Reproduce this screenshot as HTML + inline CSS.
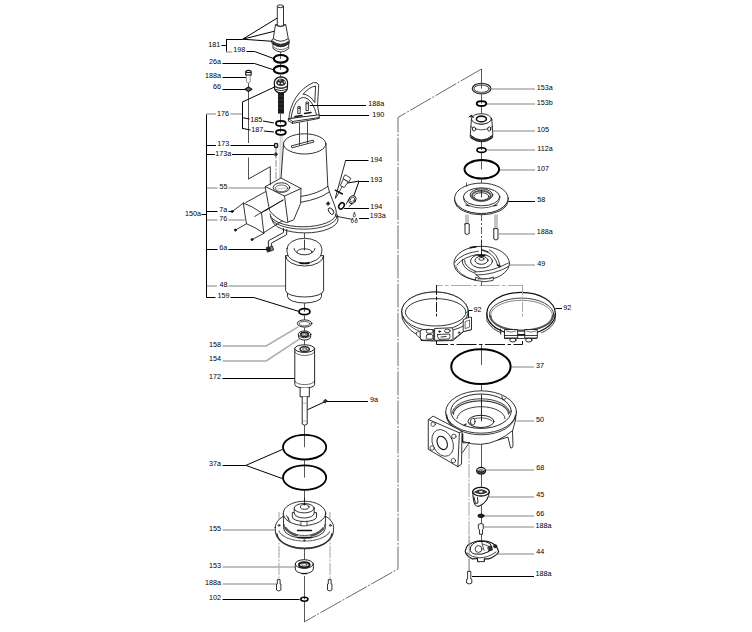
<!DOCTYPE html>
<html><head><meta charset="utf-8"><style>
html,body{margin:0;padding:0;background:#fff;}
svg{display:block;}
text{font-family:"Liberation Sans",sans-serif;font-size:7.2px;fill:#000;text-anchor:end;}
</style></head><body>
<svg width="752" height="632" viewBox="0 0 752 632">
<rect width="752" height="632" fill="#fff"/>
<g fill="none" stroke-width="1">
<polyline points="481.5,69 398,117.4 398,569 304,622" stroke="#6a6a6a" stroke-width="1" stroke-dasharray="24 1.6 2 1.6"/>
<path d="M436.5,316 L436.5,285.5 L522.5,285.5 L522.5,316" stroke="#aaa" stroke-width="1.1" stroke-dasharray="20 2.5 3.5 2.5" stroke-dashoffset="12"/>
<path d="M436.5,339 L436.5,344.5 L522.5,344.5 L522.5,339" stroke="#111" stroke-dasharray="20 2.5 3.5 2.5" stroke-dashoffset="3"/>
<path d="M436.5,285.5 L436.5,316" stroke="#111" stroke-dasharray="9 2.5 3 2.5"/>
<path d="M522.5,285.5 L522.5,316" stroke="#aaa" stroke-dasharray="9 2.5 3 2.5"/>
<!-- axes left column -->
<path d="M280.5,52 L280.5,59 M280.5,63.8 L280.5,69.8 M280.5,74.7 L280.5,77 M280.5,113.6 L280.5,123.4 M280.5,126.8 L280.5,132.3" stroke="#555" stroke-width="0.9"/>
<path d="M248.5,83 L248.5,143 M248.5,157.5 L248.5,179" stroke="#555" stroke-width="1"/>
<path d="M276,148 L276,179" stroke="#aaa" stroke-width="1.3" stroke-dasharray="7 1.5 2 1.5"/>
<path d="M304.5,228 L304.5,252 M304.5,302 L304.5,311.7 M304.5,315.6 L304.5,323.5 M304.5,327.6 L304.5,331 M304.5,340 L304.5,348 M304.5,425 L304.5,447.2 M304.5,460.4 L304.5,477.6 M304.5,490.8 L304.5,505" stroke="#444" stroke-width="0.9"/>
<path d="M279,512 L279,580 M330,512 L330,580" stroke="#999" stroke-width="0.9" stroke-dasharray="12 1.5 2 1.5"/>
<path d="M304.5,548 L304.5,564 M304.5,576 L304.5,599.3 M304.5,601.9 L304.5,622" stroke="#444" stroke-width="0.9"/>
<!-- axes right column -->
<path d="M481.5,69 L481.5,88.6 M481.5,94.5 L481.5,103.6 M481.5,107 L481.5,119 M481.5,139 L481.5,150.05 M481.5,153.2 L481.5,169.4 M481.5,179.6 L481.5,197 M481.5,278 L481.5,285.5 M481.5,344.5 L481.5,365 M481.5,385 L481.5,424 M481.5,443 L481.5,540" stroke="#444" stroke-width="0.9"/>
<path d="M481.5,214 L481.5,240" stroke="#333" stroke-width="0.8" stroke-dasharray="7 2 2 2"/>

<path d="M469,445 L469,572" stroke="#999" stroke-width="0.9" stroke-dasharray="14 1.5 2 1.5"/>

<polyline points="221.5,45.5 226,45.5" stroke="#000"/>
<polyline points="226.5,39.2 226.5,52.2" stroke="#000"/>
<polyline points="226,39.5 242.7,39.5" stroke="#000"/>
<polyline points="242.7,39.2 277.3,18" stroke="#000"/>
<polyline points="242.7,39.2 274,31.3" stroke="#000"/>
<polyline points="242.7,39.2 272.1,41.3" stroke="#000"/>
<polyline points="226,52 232,52" stroke="#acacac" stroke-width="1.5"/>
<polyline points="246.5,51.5 254.6,51.5 273.6,58.5" stroke="#000"/>
<polyline points="222.5,63.5 254.5,63.5 273,69.6" stroke="#000"/>
<polyline points="222.5,77.5 246,77.5" stroke="#000"/>
<polyline points="222.5,89.5 246,89.5" stroke="#000"/>
<polyline points="206.3,114 216,114" stroke="#acacac" stroke-width="1.5"/>
<polyline points="230.5,114 242,114" stroke="#acacac" stroke-width="1.5"/>
<polyline points="242.5,102.2 242.5,128.3" stroke="#000"/>
<polyline points="242,102.2 274.4,87.1" stroke="#000"/>
<polyline points="242,117.6 249.5,119" stroke="#000"/>
<polyline points="263,121 274,123" stroke="#000"/>
<polyline points="242,128.3 250.5,130" stroke="#000"/>
<polyline points="264,131 274,132" stroke="#000"/>
<polyline points="206.3,145.5 216,145.5" stroke="#000"/>
<polyline points="230.5,145.5 274,145.5" stroke="#000"/>
<polyline points="206.3,154.5 215,154.5" stroke="#000"/>
<polyline points="232,154.5 274,154.5" stroke="#000"/>
<polyline points="206,188 217.5,188" stroke="#acacac" stroke-width="1.5"/>
<polyline points="228.5,188 265.5,188" stroke="#acacac" stroke-width="1.5"/>
<polyline points="201.5,214.5 206.1,214.5" stroke="#000"/>
<polyline points="206,211.5 217.5,211.5" stroke="#000"/>
<polyline points="228.5,211.5 232,211.5" stroke="#000"/>
<polyline points="206,220 217.5,220" stroke="#acacac" stroke-width="1.5"/>
<polyline points="228.5,220 244.9,220" stroke="#acacac" stroke-width="1.5"/>
<polyline points="206,249.5 217.5,249.5" stroke="#000"/>
<polyline points="228.5,249.5 268.6,249.5" stroke="#000"/>
<polyline points="206.4,286 216.8,286" stroke="#acacac" stroke-width="1.5"/>
<polyline points="228.5,286 285.6,286" stroke="#acacac" stroke-width="1.5"/>
<polyline points="206.4,297.5 215.5,297.5" stroke="#000"/>
<polyline points="230.5,297.5 253.9,297.5 298.2,311.2" stroke="#000"/>
<polyline points="206.5,114.5 206.5,297.5" stroke="#000"/>
<polyline points="222.5,346 266.2,346 298.2,326.8" stroke="#acacac" stroke-width="1.5"/>
<polyline points="222.5,361 266.2,361 299.3,339.2" stroke="#acacac" stroke-width="1.5"/>
<polyline points="222.5,378.5 294.6,378.5" stroke="#000"/>
<polyline points="368,401.5 325.4,401.5 307.6,409.7" stroke="#000"/>
<polyline points="222.6,465.5 245.9,465.5" stroke="#000"/>
<polyline points="245.9,465.4 282.7,449.3" stroke="#000"/>
<polyline points="245.9,465.4 282.7,478.7" stroke="#000"/>
<polyline points="222.6,530 275.1,530" stroke="#acacac" stroke-width="1.5"/>
<polyline points="222.6,567 295,567" stroke="#acacac" stroke-width="1.5"/>
<polyline points="222.6,584 276,584" stroke="#acacac" stroke-width="1.5"/>
<polyline points="222.6,599.5 299.5,599.5" stroke="#000"/>
<polyline points="366,105.5 309.8,105.5" stroke="#000"/>
<polyline points="369,115.5 316,115.5" stroke="#000"/>
<polyline points="368.5,160.5 345.6,160.5" stroke="#000"/>
<polyline points="369,181.5 359.1,181.5" stroke="#000"/>
<polyline points="359.1,181 347.2,183.1" stroke="#000"/>
<polyline points="359.1,181 353.8,195.9" stroke="#000"/>
<polyline points="369,208.5 344.2,208.5" stroke="#000"/>
<polyline points="369,218.5 359.1,218.5" stroke="#000"/>
<polyline points="535,89 491.3,89" stroke="#acacac" stroke-width="1.5"/>
<polyline points="535,104 487,104" stroke="#acacac" stroke-width="1.5"/>
<polyline points="535,131 493.2,131" stroke="#acacac" stroke-width="1.5"/>
<polyline points="535,150 486.5,150" stroke="#acacac" stroke-width="1.5"/>
<polyline points="535,170 499.8,170" stroke="#acacac" stroke-width="1.5"/>
<polyline points="535,201.5 508.3,201.5" stroke="#000"/>
<polyline points="535,234 498.7,234" stroke="#acacac" stroke-width="1.5"/>
<polyline points="535,265 509.2,265" stroke="#acacac" stroke-width="1.5"/>
<polyline points="472.5,310.5 468.5,310.5 468.5,317.3" stroke="#000"/>
<polyline points="562,308.5 555.5,308.5" stroke="#000"/>
<polyline points="534,367 511.5,367" stroke="#acacac" stroke-width="1.5"/>
<polyline points="534,421 516.4,421" stroke="#acacac" stroke-width="1.5"/>
<polyline points="534,470 486,470" stroke="#acacac" stroke-width="1.5"/>
<polyline points="534,497 489,497" stroke="#acacac" stroke-width="1.5"/>
<polyline points="534,516 484,516" stroke="#acacac" stroke-width="1.5"/>
<polyline points="534,527 484,527" stroke="#acacac" stroke-width="1.5"/>
<polyline points="534,554 497,554" stroke="#acacac" stroke-width="1.5"/>
<polyline points="534,576.5 472,576.5" stroke="#000"/>
</g>
<g fill="#fff" stroke="#111" stroke-width="0.85" stroke-linejoin="round" stroke-linecap="round">
<!-- 181 cable entry -->
<path d="M273,44.5 L273,48.5 Q280.8,55.5 288.7,48.5 L288.7,44.5 Z"/>
<path d="M274,47.5 Q280.8,52 287.7,47.5" fill="none" stroke-width="0.6"/>
<path d="M272.2,39.5 Q280.7,33 289.2,39.5 L289.2,43.5 Q280.7,50 272.2,43.5 Z" fill="#fff"/>
<path d="M272.6,41 Q280.7,47.5 288.8,41 L288.8,43.5 Q280.7,50 272.6,43.5 Z" fill="#333" stroke-width="0.5"/>
<path d="M275.4,25 L273.3,38.5 Q280.7,44 288.3,38.5 L285.8,25 Z"/>
<path d="M277.3,6.5 L277.3,25.5 Q280.4,27 283.5,25.5 L283.5,6.5 Z"/>
<ellipse cx="280.4" cy="6.3" rx="3.1" ry="1.4"/>
<path d="M275.4,25 Q280.6,28.5 285.8,25" fill="none" stroke-width="0.6"/>
<!-- bolt 188a + washer 66 -->
<path d="M246.4,75 L246.4,82 L248.45,83 L250.2,82 L250.2,75" stroke="#888" stroke-width="0.9"/>
<path d="M245.7,71.5 Q248.45,69.2 251.2,71.5 L251.2,75 L245.7,75 Z" fill="#fff" stroke="#111" stroke-width="1.1"/>
<path d="M246.5,72.5 L250.4,72.5" stroke="#111" stroke-width="1.2"/>
<path d="M245,89.3 L248.45,86.9 L251.9,89.3 L248.45,91.6 Z" fill="#666" stroke="#111" stroke-width="1.1"/>
<!-- terminal block 176 -->
<path d="M274.6,89 L274.3,82.5 Q275,77 281,76.8 Q287,77 287.6,82.5 L287.3,89 Q286,92.8 281,92.8 Q276,92.8 274.6,89 Z" stroke-width="1.2"/>
<path d="M276,83 Q276.5,79 281,78.5 Q285.5,79 286,83 Q285,86 281,86 Q277,86 276,83 Z" fill="#333" stroke="none"/>
<circle cx="278.8" cy="83.2" r="0.9" fill="#fff" stroke="none"/><circle cx="282" cy="83.4" r="0.9" fill="#fff" stroke="none"/><circle cx="284.5" cy="82" r="0.8" fill="#fff" stroke="none"/><circle cx="280" cy="80" r="0.7" fill="#fff" stroke="none"/>
<path d="M275.2,86.5 Q281,90 286.8,86.5" fill="none" stroke="#222" stroke-width="1.3"/>
<path d="M275.5,89.5 Q281,92 286.5,89.5" fill="none" stroke="#333" stroke-width="1"/>
<rect x="278" y="93" width="6" height="20.6" fill="#1a1a1a" stroke="none"/>
<path d="M278.3,96 L283.7,96 M278.3,100 L283.7,100 M278.3,104 L283.7,104 M278.3,108 L283.7,108" stroke="#555" stroke-width="0.5"/>
<path d="M280.3,135.5 L279.8,178 M282.1,135.5 L281.6,178" stroke="#999" stroke-width="0.6" fill="none"/>
<!-- handle 190 -->
<path d="M288.7,120.8 C289.5,103 299,89 313.3,82.6 Q318,81.8 318.7,85 C318.4,94 317.6,100 317.6,106 L319.2,115.2 L291,118.4 C293,104 298.5,97.5 303.5,97.5 C310,98 314.5,106 316.4,114.4" fill="none"/>
<path d="M288.7,118.7 L319.2,114.8 L319.2,118.4 L292.5,123.4 L288.7,121 Z"/>
<path d="M288.7,118.7 L292.5,121.5 L319.2,117.5 M292.5,121.5 L292.5,123.4" fill="none"/>
<path d="M303.4,94 Q309,87 315.6,86 L314.8,102.5 Q310,95 303.4,94 Z" fill="none"/>
<path d="M297.8,113.2 L297.8,108 L300.2,108 L300.2,113.2 Z"/><ellipse cx="299" cy="107.3" rx="1.4" ry="1"/>
<path d="M306,110.2 L306,103.5 L308.4,103.5 L308.4,110.2 Z"/><ellipse cx="307.2" cy="102.8" rx="1.4" ry="1"/>
<path d="M295,116.5 L302,115.5 M304.5,113.5 L311,112.5" fill="none" stroke-width="1.4"/>
<!-- motor flange and bell (behind box) -->
<path d="M272,219.5 A32.5,13.2 0 0 0 338,219.5 L337.5,215 A33,12.8 0 0 1 270,214 Z" stroke="none"/>
<path d="M272,219.5 A32.5,13.2 0 0 0 338,219.5 L337.5,215" fill="none"/>
<path d="M270.5,216.5 A33,12.6 0 0 0 337,216.5" fill="none" stroke-width="0.8"/>
<path d="M283.5,145 L281,178 L301,188.5 L300.6,202 Q320,198 329.7,190 C332,198 336,206 336.5,216 A33,12.8 0 0 1 304,226.8 L290,222 L285,196 Z" stroke="none"/>
<path d="M283.5,145 L281,178" fill="none"/>
<path d="M325.9,145 L327.8,186 C330,196 335.5,205 336.3,212 L336,216" fill="none"/>
<path d="M300.6,196.5 Q318,194 327.8,186.4 M300.6,202.3 Q320,199 328.8,192.2" fill="none"/>
<path d="M270,214 A33,12.8 0 0 0 336,214" fill="none"/>
<path d="M283.5,145 A21.2,10.1 0 0 1 325.9,145" fill="none"/>
<ellipse cx="304.7" cy="143.9" rx="21.2" ry="10.1"/>
<path d="M291.7,145.8 L313.2,140.1 L313.9,142 L292.3,147.7 Z"/>
<path d="M299.5,123 L299.5,145 M307.5,122 L307.5,143" fill="none" stroke="#333" stroke-width="0.9"/>
<!-- terminal box 55 -->
<path d="M265.5,186.6 L281,178 L301,188.5 L300.6,203.4 L293.7,219.9 L286.3,222.6 Q276,219 269.8,210.9 Z"/>
<path d="M265.5,186.6 L284.5,196.1 L301,188.5 M284.5,196.1 L287.9,222" fill="none"/>
<ellipse cx="281.5" cy="187.6" rx="8.3" ry="4.8"/>
<ellipse cx="281.5" cy="188.3" rx="6.3" ry="3.3" stroke-width="0.6"/>
<path d="M276,189 L287,188" stroke="#888" stroke-width="0.5" fill="none"/>
<path d="M248.5,179 L270.3,166.7 L270.3,184.7" fill="none"/>
<!-- cover 76 and screws -->
<path d="M245.9,202.5 L265.5,191.7 M254.7,216.4 L283.2,200 M263.6,232.8 L282,221 M265,210.9 L282.6,200.2" fill="none"/>
<path d="M243.4,203.1 Q252,206 261.5,212.7 Q262.5,223 263.9,233.3 Q255,227 246.5,223.8 Q244.5,213 243.4,203.1 Z"/>
<path d="M246.5,223.8 L235.4,230.1 M264,233.3 L252,239.6 M232.2,211.5 L243.4,203.1" fill="none"/>
<path d="M254.7,216.4 L268,208.7" fill="none" stroke-width="0.8"/>
<circle cx="232.2" cy="211.5" r="1" fill="#222"/><circle cx="235.4" cy="230.1" r="1" fill="#222"/><circle cx="252" cy="239.6" r="1" fill="#222"/>
<!-- screws 173 / 173a -->
<path d="M274.5,144 Q276.1,142.6 277.7,144 L277.7,147 Q276.1,148.2 274.5,147 Z" fill="#bbb" stroke="#111" stroke-width="1.1"/>
<path d="M274.2,154.3 L275.9,152.6 L277.6,154.3 L275.9,156 Z" fill="#333" stroke="#111"/>
<!-- conduit 6a -->
<path d="M268.4,247.8 L268.4,240.8 L283.5,232.5 L283.5,228.5 M271.4,246.2 L271.4,243.2 L286.7,234.6 L286.7,229.5" fill="none" stroke-width="0.9"/>
<path d="M266.6,247.6 L269.2,246.8 L270.4,251.2 L267.6,252 Z" fill="#222" stroke-width="0.8"/>
<path d="M270.4,246.8 L272.4,246 L273.6,250 L271.4,250.8 Z" fill="#888" stroke-width="0.8"/>
<!-- 193/194 fittings -->
<path d="M343.3,179.4 L340.2,185.6 L344.2,187.5 L348,182.2 Z" stroke-width="0.8"/>
<path d="M345.4,174.9 L350.9,178.2 L348.7,182 L343.3,178.7 Z" stroke-width="0.8"/>
<path d="M342.2,186.6 L336.2,197.4" fill="none" stroke-width="0.8" stroke-dasharray="1.5 0.8"/>
<path d="M335.3,190.2 L342.4,194" fill="none" stroke-width="1.5"/>
<path d="M345.6,160.5 L335.3,198.3" fill="none" stroke-width="0.9"/>
<path d="M346.2,204 L350,197 M349,206.5 L355,201.5" fill="none" stroke-width="0.8"/>
<ellipse cx="352.4" cy="199.7" rx="3.3" ry="4.3" transform="rotate(35 352.4 199.7)" stroke-width="0.9"/>
<ellipse cx="352.4" cy="199.7" rx="1.9" ry="2.7" transform="rotate(35 352.4 199.7)" stroke-width="0.7"/>
<ellipse cx="341.5" cy="205.9" rx="2.4" ry="3.4" transform="rotate(35 341.5 205.9)" stroke-width="1.5" stroke="#111"/>
<ellipse cx="331" cy="211.1" rx="2.1" ry="3.7" transform="rotate(-35 331 211.1)" stroke-width="0.9"/>
<path d="M326.6,203.5 L328.2,201.7 L329.8,203.5 L328.2,205.3 Z" fill="#222" stroke-width="0.8"/>
<path d="M336.3,216.3 L351.5,219.2" fill="none" stroke-width="0.9"/>
<path d="M354.3,212.5 L353.2,215.8 A1.1,1.1 0 1 0 355.4,215.8 Z M352.4,218.3 L351.3,221.6 A1.1,1.1 0 1 0 353.5,221.6 Z M356.2,218.3 L355.1,221.6 A1.1,1.1 0 1 0 357.3,221.6 Z" stroke-width="0.7"/>
<!-- stator 48 -->
<path d="M287.5,293.5 L287.5,296.5 A17,6.5 0 0 0 321.5,296.5 L321.5,293.5" />
<path d="M285.6,256 L285.6,290.5 A19,6.5 0 0 0 323.6,290.5 L323.6,256 Z"/>
<path d="M285.6,256 A19,10 0 0 0 323.6,256" fill="none"/>
<path d="M287,248.5 L287,252 A17.4,11 0 0 0 321.8,252 L321.8,248.5 A17.4,10.2 0 0 0 287,248.5 Z"/>
<path d="M294,248.5 A10.4,6 0 0 0 315,248.5" fill="none" stroke-width="0.8"/>
<ellipse cx="304.5" cy="251.8" rx="7.5" ry="3" stroke-width="0.8"/>
<path d="M300,263.2 Q304.5,264 309,263.2" fill="none" stroke-width="1.5" stroke="#111"/>
<path d="M304.5,240 L304.5,250" fill="none" stroke-width="0.8"/>
<!-- 158 / 154 -->
<ellipse cx="304.6" cy="323.5" rx="7.3" ry="3.6" stroke="#222" stroke-width="1"/>
<ellipse cx="304.6" cy="323.7" rx="5.3" ry="2.2" stroke="#333" stroke-width="0.8"/>
<path d="M298.4,334.3 L298.6,337 A6,3 0 0 0 310.6,337 L310.8,334.3" stroke-width="0.9"/>
<ellipse cx="304.6" cy="334.3" rx="6.2" ry="3.4"/>
<ellipse cx="304.6" cy="334.4" rx="3.8" ry="2" stroke-width="1.6" stroke="#222"/>
<ellipse cx="304.6" cy="334.4" rx="1.8" ry="0.9" stroke-width="0.6" stroke="#333"/>
<!-- rotor 172 -->
<path d="M294.8,348.6 L294.8,384.5 A9.9,3.6 0 0 0 314.6,384.5 L314.6,348.6 Z" stroke-width="0.9"/>
<ellipse cx="304.7" cy="348.6" rx="9.9" ry="3.8" stroke-width="0.9"/>
<ellipse cx="304.7" cy="349.2" rx="4.6" ry="2.6" stroke-width="1.6" stroke="#333" stroke-dasharray="1.2 0.6"/>
<ellipse cx="304.7" cy="349.2" rx="2.2" ry="1.2" stroke-width="0.7"/>
<path d="M294.8,351.5 A9.9,4 0 0 0 314.6,351.5" fill="none" stroke-width="0.6"/>
<path d="M294.8,381 A9.9,3.6 0 0 0 314.6,381" fill="none" stroke-width="0.6"/>
<path d="M300.1,388 L300.1,396.8 L309.3,396.8 L309.3,388" stroke-width="0.9"/>
<path d="M302.2,396.8 L302.2,424 Q304.7,426.5 307.2,424 L307.2,396.8" stroke-width="0.9"/>
<path d="M302.2,403.2 L307.2,403.2 M302.2,421 L307.2,421" fill="none" stroke="#888" stroke-width="0.6"/>
<path d="M323.6,401 L325.4,399.2 L327.2,401 L325.4,402.8 Z" fill="#333"/>
<!-- housing 155 -->
<path d="M275.2,527.5 L275.6,533 A28.9,16.5 0 0 0 333.2,533 L333.6,527.5 A29.2,16.5 0 0 0 275.2,527.5 Z"/>
<path d="M276.5,533.5 A27.9,15.5 0 0 0 332.3,533.5" fill="none" stroke-width="0.6"/>
<path d="M277,534 A27.5,15.8 0 0 0 331.8,534" fill="none" stroke-width="1.3" stroke="#333"/>
<circle cx="279" cy="525.4" r="0.9" fill="none"/><circle cx="330.3" cy="525.4" r="0.9" fill="none"/><circle cx="304.4" cy="540.5" r="0.8" fill="none"/>
<path d="M283.3,513.3 L283.7,529 A20.8,10 0 0 0 325.2,529 L325.6,513.3 Z"/>
<path d="M284,524.5 A20.5,11 0 0 0 325,524.5" fill="none" stroke-width="0.7"/>
<path d="M285.5,528 Q289,533 297,535.5 M311.5,535.5 Q320,533 323.5,528" fill="none" stroke-width="2.6" stroke="#555" stroke-dasharray="0.9 0.9"/>
<path d="M297.5,530.5 L311.5,530.5 M298,537.5 L311,537.5" fill="none" stroke-width="1.4" stroke="#111"/>
<path d="M279,531 A26,12.5 0 0 0 330,531" fill="none" stroke-width="1.1" stroke="#666" stroke-dasharray="1.2 1"/>
<ellipse cx="304.5" cy="513.3" rx="21.2" ry="12.1"/>
<path d="M288,517 L289,520 M286.5,515.5 L290,522" fill="none" stroke-width="0.7"/>
<rect x="301.3" y="521.1" width="5.7" height="4.8" stroke-width="0.7"/>
<path d="M292.3,513 L292.3,517 A12.1,4.5 0 0 0 316.5,517 L316.5,513 Z"/>
<path d="M294.2,508.2 L294.2,513 A10,5 0 0 0 314.2,513 L314.2,508.2 Z"/>
<ellipse cx="304.2" cy="508.2" rx="10" ry="4.7"/>
<ellipse cx="304.7" cy="506.9" rx="4.3" ry="2.4"/>
<path d="M304.5,498 L304.5,505" fill="none" stroke-width="0.8"/>
<!-- bearing 153 -->
<path d="M295.3,564 L295.3,569 A9,4.5 0 0 0 313.3,569 L313.3,564" stroke-width="0.9"/>
<ellipse cx="304.3" cy="564" rx="9" ry="4.3" stroke-width="0.9"/>
<ellipse cx="304.3" cy="564.8" rx="5.3" ry="2.6" stroke-width="2" stroke="#1a1a1a"/>
<ellipse cx="304.3" cy="564.8" rx="2.6" ry="1.3" stroke-width="0.7" stroke="#333"/>
<path d="M302,573.6 L306.6,573.6" stroke-width="1.2" fill="none"/>
<!-- bolts 188a bottom -->
<path d="M277.3,580 L277.3,584 L276.5,584 L276.5,590 Q278.7,592 280.9,590 L280.9,584 L280.1,584 L280.1,580 Z"/>
<path d="M328.3,580 L328.3,584 L327.5,584 L327.5,590 Q329.7,592 331.9,590 L331.9,584 L331.1,584 L331.1,580 Z"/>
<!-- right column -->
<ellipse cx="481.6" cy="88.6" rx="9.3" ry="5.2" fill="none" stroke="#222" stroke-width="1.3"/>
<ellipse cx="481.6" cy="88.7" rx="7.6" ry="3.7" fill="none" stroke="#333" stroke-width="1"/>
<ellipse cx="481.6" cy="88.65" rx="8.45" ry="4.45" fill="none" stroke="#aaa" stroke-width="0.7" stroke-dasharray="1 1"/>
<!-- 105 -->
<path d="M471.4,119 L470.3,135 Q481.6,145 492.9,135 L491.8,119 Z"/>
<path d="M470.3,135.5 Q481.6,145 492.9,135.5 L492.5,138 Q481.6,146 470.7,138 Z" fill="#333" stroke-width="0.6"/>
<path d="M470.5,126.5 Q481.6,133.5 492.7,126.5" fill="none" stroke-width="0.7"/>
<ellipse cx="474" cy="129" rx="1.6" ry="2.1"/><ellipse cx="489.2" cy="129" rx="1.6" ry="2.1"/>
<path d="M471.4,120 Q481.6,129 491.8,120" fill="none" stroke-width="0.7"/>
<ellipse cx="481.4" cy="118.9" rx="10" ry="5.2"/>
<ellipse cx="481.4" cy="118.9" rx="5" ry="2.8" stroke-width="1.6" stroke="#111"/>
<path d="M469,117 L471.5,115 L473.5,117.5" fill="#333" stroke-width="0.9"/>
<!-- 58 seal plate -->
<path d="M454.6,198.3 L455,202 A26.5,14 0 0 0 507.8,202 L508.1,198.3 Z"/>
<path d="M455.3,200.5 A26.3,14 0 0 0 507.5,200.5" fill="none" stroke-width="1.4" stroke="#444"/>
<ellipse cx="481.4" cy="198.3" rx="26.8" ry="15.2"/>
<path d="M463.4,196.8 L463.6,199 A18,9 0 0 0 499.6,199 L499.9,196.8" fill="none" stroke-width="0.7"/>
<ellipse cx="481.6" cy="196.8" rx="18.2" ry="9"/>
<ellipse cx="481.4" cy="195" rx="11.3" ry="6.2" stroke-width="0.9"/>
<ellipse cx="481.4" cy="195.7" rx="9.3" ry="4.9" fill="none" stroke="#555" stroke-width="1.8" stroke-dasharray="1 0.8"/>
<ellipse cx="481.4" cy="196.5" rx="7.5" ry="3.8" stroke-width="0.8"/>
<path d="M466,205 L469,206 M494,206 L497,205" fill="none" stroke="#222" stroke-width="1.3"/>
<path d="M481.5,190 L481.5,197" fill="none" stroke-width="0.8"/>
<path d="M466.5,183 L466.5,186.2" fill="none" stroke-width="0.7"/>
<path d="M466,215 L466,224 M468,215 L468,224" fill="none" stroke="#555" stroke-width="0.7"/>
<path d="M495,215 L495,229 M497,215 L497,229" fill="none" stroke="#555" stroke-width="0.7"/>
<path d="M465,224 L465,233.5 Q467,235.5 469.2,233.5 L469.2,224 Q467,222.6 465,224 Z" stroke-width="0.9"/>
<path d="M493.8,229 L493.8,239 Q496,241 498,239 L498,229 Q496,227.6 493.8,229 Z" stroke-width="0.9"/>
<!-- 49 impeller -->
<ellipse cx="481.7" cy="263.3" rx="27.75" ry="17"/>
<path d="M455.5,266 Q458,275 475,280.5" fill="none" stroke-width="0.7"/>
<path d="M454.6,262.4 Q462,253 478.3,251.2 M456.8,265 Q463,257 478,254.2" fill="none" stroke-width="0.8"/>
<path d="M462.4,259.5 Q461,268 474.3,273 Q480,278 484,281 M464.6,260 Q464,267 476,271.5" fill="none" stroke-width="0.8"/>
<path d="M474.3,272 Q492,272 507.9,263.2 M476,275 Q494,275 508.6,266.5" fill="none" stroke-width="0.8"/>
<path d="M489.5,250 Q498,254 499.9,265.5 M487.5,252 Q495.5,256 497.5,265" fill="none" stroke-width="0.8"/>
<path d="M497.5,265 L500.2,266.5" fill="none" stroke-width="1.5" stroke="#111"/>
<path d="M470.4,247.6 L476,246.8" fill="none" stroke-width="1.6" stroke="#111"/>
<path d="M482.3,250 L487.9,252" fill="none" stroke-width="1.4" stroke="#333"/>
<path d="M476,277.5 Q485,280.5 493.5,277 L493,280.5 Q485,283 476,280.5 Z" fill="#fff" stroke-width="0.8"/>
<path d="M478,279 L491,278.5" fill="none" stroke="#555" stroke-width="1"/>
<ellipse cx="481.5" cy="261.2" rx="11" ry="6.8" stroke-width="0.9"/>
<ellipse cx="481.5" cy="260.3" rx="6.5" ry="4" stroke-width="0.9"/>
<ellipse cx="481.5" cy="258.9" rx="2.5" ry="1.5" stroke-width="0.8"/>
<path d="M481.5,240 L481.5,257.5" fill="none" stroke-width="0.9"/>
<path d="M478,255.5 L485,255.5" fill="none" stroke="#111" stroke-width="1.2"/>
<!-- clamp left -->
<path d="M401.7,311.4 L402.3,318.9 Q408,331 420.1,336 L421,340.5 L434,341 L453,340.5 L463.6,331.5 L471.5,329.6 L471.5,317.5 L468.2,318 L468.2,311.4 A33.2,19.4 0 0 0 401.7,311.4 Z"/>
<ellipse cx="435" cy="311.4" rx="33.2" ry="19.4"/>
<ellipse cx="435.7" cy="312.3" rx="30.3" ry="13.7" stroke-width="0.85"/>
<path d="M402.5,316 Q406,326 420,331.5" fill="none" stroke-width="0.7"/>
<path d="M453,330 Q460,328 463.6,326 M453,339.5 L463.6,331.5" fill="none" stroke-width="0.8"/>
<path d="M463.6,319.5 L470,317 L471.5,317.5 L471.5,329.6 L463.6,331.5 Z" stroke-width="0.8"/>
<path d="M465.5,321.5 L469.5,320 L469.5,327 L465.5,328.5 Z" fill="none" stroke-width="0.6"/>
<path d="M420.1,331 Q420.5,329.6 423,329.6 L433.7,329.6 L433.7,340.1 L423,340.1 Q420.1,340 420.1,338 Z" stroke-width="0.85"/>
<path d="M416.5,332.5 L420.1,331 L420.1,338 L417,335.5 Z" stroke-width="0.7"/>
<rect x="426.3" y="329.4" width="6.6" height="3.8" rx="1.8" stroke-width="0.8"/>
<rect x="426.3" y="334.5" width="6.6" height="4.6" rx="1.5" stroke-width="0.8"/>
<path d="M435,328.5 L451.5,327.8 Q453,328 453,330 L453,338.5 Q452,340.3 450,340.3 L435,340.3 Z" stroke-width="0.85"/>
<ellipse cx="447.3" cy="330.9" rx="2.8" ry="1.8" stroke-width="0.8"/>
<ellipse cx="439.6" cy="331.6" rx="1" ry="0.8" fill="#333" stroke-width="0.6"/>
<path d="M437.5,334.5 L449.5,334 Q451,336.5 449,339 L439,339.3 Q437,337 437.5,334.5 Z" stroke-width="0.8"/>
<path d="M441,337 L446,336.5" fill="none" stroke-width="1.1" stroke="#333"/>
<path d="M458.3,332.6 L459.2,331.6 L460.1,332.6 L459.2,333.6 Z" fill="#333" stroke-width="0.5"/>
<path d="M436.5,285.5 L436.5,316" stroke="#111" stroke-width="1" stroke-dasharray="9 2.5 3 2.5" fill="none"/>
<!-- clamp right -->
<path d="M486.8,313.5 L487,321 Q492,330 501.1,332.7 L504,341 L537,341 L541.6,332.7 Q553,327 555,321 L555.4,313.5 A34.3,21.2 0 0 0 486.8,313.5 Z" stroke="none"/>
<path d="M486.8,313.5 L487,321 Q492,330 501.1,332.7 M555.4,313.5 L555,321 Q551,329 541.6,332.7" fill="none" stroke-width="0.8"/>
<ellipse cx="521.1" cy="313.5" rx="34.3" ry="21.2" fill="none" stroke-width="1.2" stroke="#111"/>
<ellipse cx="521.6" cy="314.6" rx="32.2" ry="16.5" stroke-width="0.8"/>
<ellipse cx="521.6" cy="315.6" rx="31" ry="15.3" fill="none" stroke-width="0.5"/>
<path d="M490.6,316 A31,14.5 0 0 0 552.6,316" fill="none" stroke="#555" stroke-width="2" stroke-dasharray="0.7 0.7"/>
<path d="M489,321 Q493,329 500.6,330" fill="none" stroke-width="0.7"/>
<path d="M500.6,329 L500.6,334.3" fill="none" stroke-width="0.8"/>
<path d="M504.9,329.5 L517.6,329.5 L517.6,338 L504.9,338 Z M525.1,329.5 L537.3,329.5 L537.3,338 L525.1,338 Z" stroke-width="0.85"/>
<path d="M506.5,331 Q511,333.5 516,331 M526.5,331 Q531,333.5 536,331" fill="none" stroke-width="0.6"/>
<path d="M504.3,335.5 L536.8,335.5 M504.3,338.5 L536.8,338.5" fill="none" stroke-width="0.8"/>
<ellipse cx="512.9" cy="340.1" rx="3.2" ry="1.9" stroke-width="0.9"/><ellipse cx="528.8" cy="340.1" rx="3.2" ry="1.9" stroke-width="0.9"/>
<path d="M522.5,285.5 L522.5,316" stroke="#aaa" stroke-width="1" stroke-dasharray="9 2.5 3 2.5" fill="none"/>
<!-- volute 50 -->
<path d="M445.9,412 L446.5,418 Q450,428 462.7,434 L462.7,441.4 Q481,448 498,440 L508,437 L510.5,447.8 Q512,449 513,446 L512.5,431 Q514,426 515.5,420 L516.1,412 Z"/>
<path d="M462.7,441.4 L462.7,434 M498,440 Q506,436 512.1,431" fill="none"/>
<ellipse cx="481.1" cy="412" rx="35.4" ry="21.2"/>
<path d="M446.8,415 A34.3,19.8 0 0 0 515.4,415" fill="none" stroke-width="0.8"/>
<ellipse cx="481" cy="411.2" rx="30.2" ry="17.2" stroke-width="0.9"/>
<path d="M452.5,413 A28.5,14.2 0 0 1 509.5,413" fill="none" stroke-width="0.8"/>
<path d="M453.5,414 A27.5,13.1 0 0 1 508.5,414" fill="none" stroke="#444" stroke-width="1.3" stroke-dasharray="1 0.7"/>
<path d="M457,418.7 A24,12 0 0 1 505,418.7" fill="none" stroke-width="0.8"/>
<ellipse cx="481" cy="421.4" rx="13" ry="6.1" stroke-width="0.9"/>
<path d="M470.5,424 A11,4.5 0 0 1 492,421" fill="none" stroke-width="0.7"/>
<ellipse cx="472.8" cy="421.6" rx="2.3" ry="3.4" stroke-width="0.8"/>
<path d="M501.6,396.1 L503.2,399.8 L506,398.5" fill="none" stroke-width="0.8"/>
<path d="M466,424 L464,425.5" fill="none" stroke-width="1.2"/>
<path d="M481.5,395 L481.5,421" fill="none" stroke-width="0.9"/>
<!-- flange -->
<path d="M459.4,432.8 L463,443 L469.6,442.4 M462.5,452.5 L469,443" fill="none" stroke-width="0.8"/>
<path d="M428.6,419.6 L433.1,416.1 L462,431.3 L461.5,464.2 L457.9,466.7 L428.6,449.5 Z"/>
<path d="M428.6,419.6 L459.4,432.8 L457.9,466.7 M459.4,432.8 L462,431.3" fill="none"/>
<ellipse cx="442.7" cy="442.9" rx="10" ry="14" transform="rotate(-25 442.7 442.9)" stroke-width="0.7"/>
<ellipse cx="442.2" cy="442.9" rx="4.8" ry="7" transform="rotate(-25 442.2 442.9)" stroke-width="1.1" stroke="#111"/>
<circle cx="433.1" cy="424.2" r="2.2" stroke-width="0.7"/><circle cx="453.9" cy="436.3" r="2.2" stroke-width="0.7"/><circle cx="432.1" cy="448" r="2.2" stroke-width="0.7"/><circle cx="453.4" cy="460.6" r="2.2" stroke-width="0.7"/>
<!-- 68 45 66 188a 44 188a -->
<ellipse cx="481.1" cy="470.8" rx="4.4" ry="3.3" fill="#8a8a8a" stroke="#111" stroke-width="1.4"/>
<path d="M478,469.5 Q481.1,467.5 484.2,469.5" fill="none" stroke="#ddd" stroke-width="1.2"/>
<path d="M478.5,471.6 Q481.1,472.8 483.7,471.6" fill="none" stroke="#111" stroke-width="1.2"/>
<path d="M472.7,491.7 Q473,500 474.5,504 Q476,507 479,506.3 Q484,504.5 487,499.7 Q489,496 489.3,491.7 Z" stroke-width="1"/>
<ellipse cx="481" cy="491.7" rx="8.3" ry="4.3" stroke-width="1.3"/>
<path d="M475,492 Q481,487.5 487,492 Q481,495.5 475,492 Z" fill="#444" stroke-width="0.8"/>
<ellipse cx="481" cy="491.8" rx="2.5" ry="1.3" fill="#fff" stroke-width="0.6"/>
<path d="M474,497 L475.5,503.5 L478,503 L477.5,497.5" fill="#fff" stroke-width="0.9"/>
<path d="M479,506 Q486,503 487.8,497" fill="none" stroke="#333" stroke-width="0.7"/>
<ellipse cx="481" cy="515.8" rx="3.1" ry="1.8" fill="#222" stroke="#111"/>
<path d="M478.7,524.2 Q481,522.8 483.3,524.2 L483.3,529 L482.5,529.5 L482.5,534.2 L479.5,534.2 L479.5,529.5 L478.7,529 Z"/>
<path d="M467.5,545.5 Q466,548 465.2,551.4 Q466,556 472.6,558.9 L477.4,558.5 L477.8,561.8 L484.3,561.5 L484.3,558.9 L488.6,558.9 Q495,557 498.7,552 Q497.5,548 496,545.6 L492,543 Q487,540.5 481,540.8 Q474,541 470,544 Z" stroke-width="1.1"/>
<path d="M470,549.3 Q471,543 478,541.5 Q486,540.5 490,543.5 Q493,548 489,551.5 Q482,555.5 474.5,554 Q470,552.5 470,549.3 Z" fill="none" stroke-width="1"/>
<circle cx="478.5" cy="549" r="3.4" fill="none" stroke-width="0.8"/>
<path d="M481.4,541 L484,550.5 M482.5,544 L490,546.5" fill="none" stroke-width="0.7"/>
<path d="M488,547 L491.5,546 L492.5,550 L489,551 Z" fill="#333" stroke-width="0.7"/>
<path d="M494.5,544.5 L497,545.5 L496,548 L493.5,547 Z" fill="#222" stroke-width="0.7"/>
<path d="M467,553 Q472,557.5 479,557.8 Q488,558 496,552" fill="none" stroke-width="0.8"/>
<path d="M469.2,536 L469.2,572" fill="none" stroke="#999" stroke-width="0.9"/>
<path d="M467.6,571.8 L467.6,579 L466.6,579.3 L466.6,583 Q469.2,585 471.8,583 L471.8,579.3 L470.8,579 L470.8,571.8 Z"/>

</g>
<g fill="none">
<ellipse cx="280.75" cy="58.85" rx="6.95" ry="3.85" stroke="#000" stroke-width="2.2"/>
<ellipse cx="280.75" cy="69.65" rx="6.95" ry="3.85" stroke="#000" stroke-width="2.2"/>
<ellipse cx="280.9" cy="123.4" rx="4.9" ry="2.5" stroke="#000" stroke-width="1.85"/>
<ellipse cx="280.9" cy="132.3" rx="4.9" ry="2.5" stroke="#000" stroke-width="1.85"/>
<ellipse cx="304.45" cy="311.65" rx="5.45" ry="3.05" stroke="#000" stroke-width="1.8"/>
<ellipse cx="304.6" cy="447.2" rx="21.6" ry="12.3" stroke="#000" stroke-width="1.8"/>
<ellipse cx="304.6" cy="477.6" rx="21.6" ry="12.3" stroke="#000" stroke-width="1.8"/>
<ellipse cx="304.35" cy="599.25" rx="3.6" ry="1.9" stroke="#000" stroke-width="1.5"/>
<ellipse cx="481.5" cy="103.6" rx="4.75" ry="2.45" stroke="#000" stroke-width="1.9"/>
<ellipse cx="481.5" cy="150.05" rx="4.5" ry="2.35" stroke="#000" stroke-width="1.6"/>
<ellipse cx="481.8" cy="169.35" rx="17.3" ry="9.25" stroke="#000" stroke-width="2"/>
<ellipse cx="480.9" cy="366.6" rx="29.7" ry="17.4" stroke="#000" stroke-width="2"/>
</g>
<g>
<text x="220.3" y="47.2">181</text>
<text x="245.3" y="51.9">198</text>
<text x="220.9" y="63.9">26a</text>
<text x="220.9" y="77.8">188a</text>
<text x="220.9" y="89.2">66</text>
<text x="229.1" y="115.7">176</text>
<text x="262.3" y="121.8">185</text>
<text x="263.3" y="132.0">187</text>
<text x="229.3" y="146.0">173</text>
<text x="231.3" y="156.1">173a</text>
<text x="227.5" y="188.8">55</text>
<text x="200.9" y="215.7">150a</text>
<text x="227.3" y="211.8">7a</text>
<text x="227.3" y="221.2">76</text>
<text x="227.3" y="249.7">6a</text>
<text x="227.6" y="286.8">48</text>
<text x="229.5" y="297.5">159</text>
<text x="220.9" y="346.8">158</text>
<text x="220.9" y="361.4">154</text>
<text x="220.9" y="378.5">172</text>
<text x="378.0" y="401.9">9a</text>
<text x="220.9" y="465.7">37a</text>
<text x="221.0" y="530.7">155</text>
<text x="221.0" y="567.8">153</text>
<text x="221.0" y="585.2">188a</text>
<text x="221.0" y="600.1">102</text>
<text x="384.3" y="105.9">188a</text>
<text x="384.3" y="116.5">190</text>
<text x="382.2" y="161.9">194</text>
<text x="382.2" y="181.7">193</text>
<text x="382.2" y="208.9">194</text>
<text x="385.8" y="218.4">193a</text>
<text x="552.7" y="89.9">153a</text>
<text x="552.7" y="105.0">153b</text>
<text x="548.9" y="132.0">105</text>
<text x="552.7" y="150.6">112a</text>
<text x="548.9" y="170.5">107</text>
<text x="545.2" y="201.7">58</text>
<text x="552.7" y="234.4">188a</text>
<text x="545.3" y="266.1">49</text>
<text x="481.5" y="311.8">92</text>
<text x="571.2" y="310.0">92</text>
<text x="544.0" y="367.8">37</text>
<text x="544.0" y="421.7">50</text>
<text x="544.3" y="470.4">68</text>
<text x="544.3" y="496.8">45</text>
<text x="544.3" y="515.7">66</text>
<text x="551.5" y="527.7">188a</text>
<text x="544.3" y="553.8">44</text>
<text x="551.5" y="576.4">188a</text>
</g>
</svg>
</body></html>
